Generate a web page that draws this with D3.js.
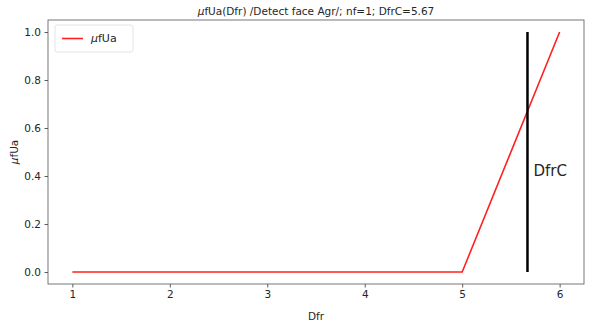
<!DOCTYPE html>
<html>
<head>
<meta charset="utf-8">
<script src="https://cdn.jsdelivr.net/npm/d3@7"></script>
<style>
  body { margin: 0; background: #fff; }
  text { font-family: "DejaVu Sans", sans-serif; fill: #262626; }
</style>
</head>
<body>
<div id="chart"></div>
<script>
// data
var dfr = [1, 2, 3, 4, 5, 6];
var mufUa = [0, 0, 0, 0, 0, 1];
var dfrC = 5.67;
var xTicks = [1, 2, 3, 4, 5, 6];
var yTicks = [0.0, 0.2, 0.4, 0.6, 0.8, 1.0];

var svgWidth = 591, svgHeight = 325;
var margin = { top: 20, right: 7, bottom: 41, left: 48 };
var width = svgWidth - margin.left - margin.right;
var height = svgHeight - margin.top - margin.bottom;

var svg = d3.select("#chart").append("svg")
  .attr("width", svgWidth).attr("height", svgHeight);
var g = svg.append("g").attr("transform", `translate(${margin.left}, ${margin.top})`);

// matplotlib style 5% margins
var x = d3.scaleLinear().domain([0.75, 6.25]).range([0, width]);
var y = d3.scaleLinear().domain([-0.05, 1.05]).range([height, 0]);

var xAxis = d3.axisBottom(x).tickValues(xTicks).tickFormat(d3.format("d")).tickSize(3.5).tickPadding(3.5);
var yAxis = d3.axisLeft(y).tickValues(yTicks).tickFormat(d3.format(".1f")).tickSize(3.5).tickPadding(3.5);

var gx = g.append("g").attr("transform", `translate(0, ${height})`).call(xAxis);
var gy = g.append("g").call(yAxis);
[gx, gy].forEach(function(a) {
  a.select(".domain").remove();
  a.selectAll(".tick line").attr("stroke", "#333").attr("stroke-width", 0.8);
  a.selectAll(".tick text").attr("font-size", 10.5).attr("fill", "#262626");
});

// red curve
var line = d3.line().x((d, i) => x(dfr[i])).y(d => y(d));
g.append("path").datum(mufUa)
  .attr("fill", "none").attr("stroke", "#ff2020").attr("stroke-width", 1.6)
  .attr("d", line);

// DfrC vertical line
g.append("line")
  .attr("x1", x(dfrC)).attr("x2", x(dfrC))
  .attr("y1", y(0)).attr("y2", y(1))
  .attr("stroke", "black").attr("stroke-width", 2.5);
g.append("text")
  .attr("x", x(dfrC) + 6).attr("y", y(0.42))
  .attr("dy", "0.35em")
  .attr("font-family", "Liberation Sans, sans-serif")
  .attr("font-size", 15).attr("fill", "#111")
  .text("DfrC");

// frame
g.append("rect").attr("width", width).attr("height", height)
  .attr("fill", "none").attr("stroke", "#555").attr("stroke-width", 0.8);

// legend
var leg = g.append("g").attr("transform", "translate(7, 5)");
leg.append("rect").attr("width", 78).attr("height", 27).attr("rx", 2)
  .attr("fill", "white").attr("fill-opacity", 0.8)
  .attr("stroke", "#ddd").attr("stroke-width", 0.8);
leg.append("line").attr("x1", 7).attr("x2", 28).attr("y1", 13.5).attr("y2", 13.5)
  .attr("stroke", "#ff2020").attr("stroke-width", 1.6);
var lt = leg.append("text").attr("x", 36).attr("y", 13.5).attr("dy", "0.35em")
  .attr("font-size", 11);
lt.append("tspan").attr("font-style", "italic").text("μ");
lt.append("tspan").text("fUa");

// title
var t = svg.append("text")
  .attr("x", margin.left + width / 2).attr("y", 15)
  .attr("text-anchor", "middle").attr("font-size", 10.5);
t.append("tspan").attr("font-style", "italic").text("μ");
t.append("tspan").text("fUa(Dfr) /Detect face Agr/; nf=1; DfrC=5.67");

// axis labels
svg.append("text")
  .attr("x", margin.left + width / 2).attr("y", 320)
  .attr("text-anchor", "middle").attr("font-size", 10.5)
  .text("Dfr");
var yl = svg.append("text")
  .attr("transform", `translate(18, ${margin.top + height / 2}) rotate(-90)`)
  .attr("text-anchor", "middle").attr("font-size", 10.5);
yl.append("tspan").attr("font-style", "italic").text("μ");
yl.append("tspan").text("fUa");
</script>
</body>
</html>
